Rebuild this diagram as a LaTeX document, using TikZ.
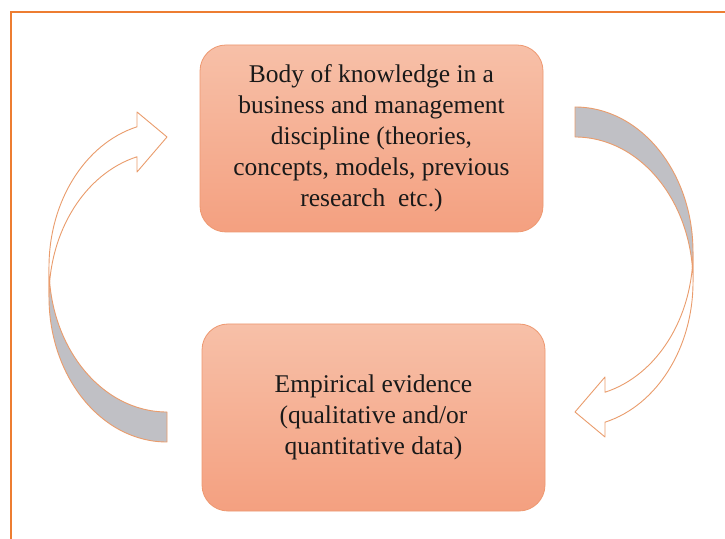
\documentclass[tikz,border=0pt]{standalone}
\usepackage{fontspec}
\setmainfont{Liberation Serif}
\definecolor{framecol}{RGB}{237,125,49}
\definecolor{boxtop}{RGB}{247,192,168}
\definecolor{boxbot}{RGB}{244,160,128}
\definecolor{boxline}{RGB}{238,152,112}
\definecolor{arrowgray}{RGB}{192,192,197}
\definecolor{arrowline}{RGB}{234,156,108}
\begin{document}
\begin{tikzpicture}[x=1pt,y=1pt,
  kbox/.style={rounded corners=26pt, draw=boxline, line width=0.8pt,
    top color=boxtop, bottom color=boxbot,
    minimum width=343pt, minimum height=187pt, align=center,
    font=\fontsize{25.5}{31}\selectfont, inner sep=0pt, text=black!90},
  arrgray/.style={fill=arrowgray, draw=arrowline, line width=0.9pt, line join=round},
  arrwhite/.style={fill=white, draw=arrowline, line width=0.9pt, line join=round},
  framestyle/.style={draw=framecol, line width=2pt}]
\useasboundingbox (0,0) rectangle (725,538);
\fill[white] (0,0) rectangle (725,538);
% frame
\draw[framestyle] (11,-2) -- (11,526) -- (727,526);
% boxes
\node[kbox] (top) at (371.5,399.5) {Body of knowledge in a\\business and management\\discipline (theories,\\concepts, models, previous\\research\ \ etc.)};
\node[kbox] (bot) at (373.5,120.5) {Empirical evidence\\(qualitative and/or\\quantitative data)};
% right curved arrow (top -> bottom)
\path[arrgray] (575,431) arc[start angle=90,end angle=0,x radius=118,y radius=145]
  -- (693,256) arc[start angle=0,end angle=90,x radius=118,y radius=145] -- cycle;
\path[arrwhite] (693,286) arc[start angle=0,end angle=-75.27,x radius=118,y radius=145]
  -- (605,161) -- (575,126) -- (605,101) -- (605,115.8)
  arc[start angle=-75.27,end angle=0,x radius=118,y radius=145] -- cycle;
% left curved arrow (bottom -> top)
\path[arrgray] (167,96) arc[start angle=270,end angle=180,x radius=118,y radius=145]
  -- (49,271) arc[start angle=180,end angle=270,x radius=118,y radius=145] -- cycle;
\path[arrwhite] (49,241) arc[start angle=180,end angle=104.73,x radius=118,y radius=145]
  -- (137,366) -- (167,401) -- (137,426) -- (137,411.2)
  arc[start angle=104.73,end angle=180,x radius=118,y radius=145] -- cycle;
\end{tikzpicture}
\end{document}
